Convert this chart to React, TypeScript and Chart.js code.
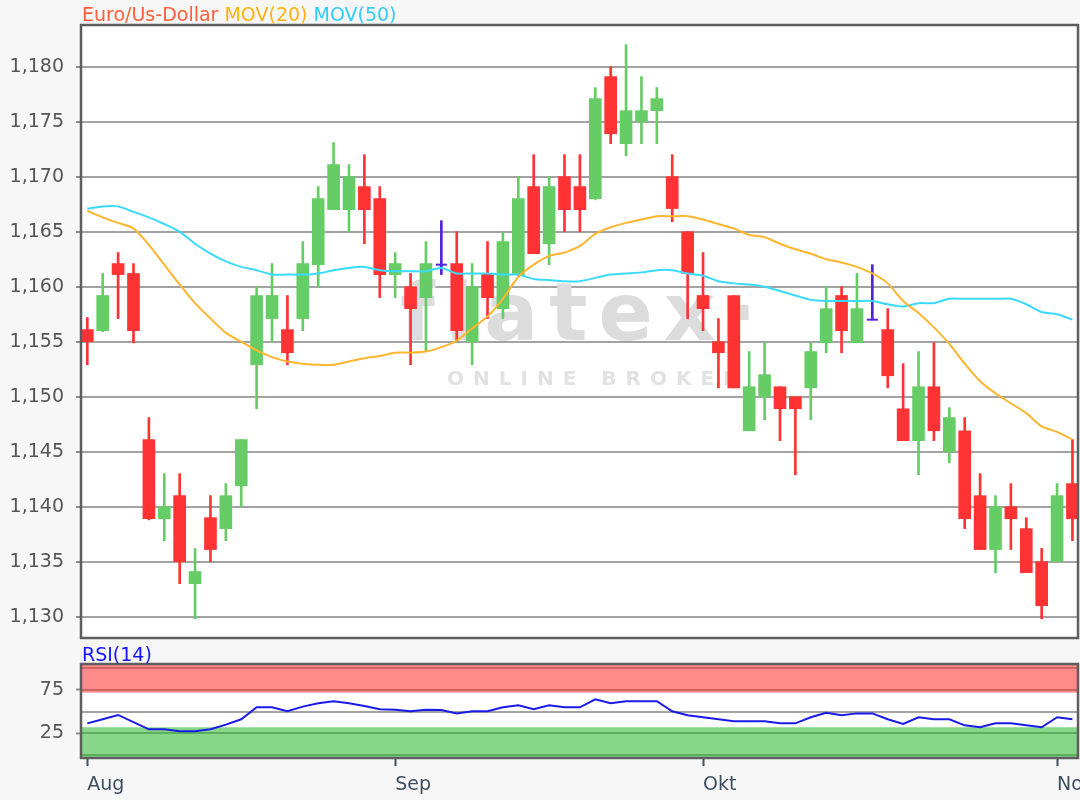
import React, { useEffect, useRef } from 'react';
import { Chart, registerables } from 'chart.js';

Chart.register(...registerables);

// ---------- data ----------
const OPEN = [
  1.1561, 1.1560, 1.1621, 1.1612, 1.1461, 1.1389, 1.1410, 1.1330, 1.1390, 1.1380,
  1.1419, 1.1529, 1.1571, 1.1561, 1.1571, 1.1620, 1.1670, 1.1670, 1.1691, 1.1680,
  1.1611, 1.1600, 1.1590, 1.1620, 1.1621, 1.1550, 1.1612, 1.1580, 1.1611, 1.1691,
  1.1639, 1.1700, 1.1691, 1.1680, 1.1791, 1.1730, 1.1750, 1.1760, 1.1700, 1.1650,
  1.1592, 1.1550, 1.1592, 1.1469, 1.1500, 1.1509, 1.1500, 1.1508, 1.1549, 1.1592,
  1.1549, 1.1570, 1.1561, 1.1489, 1.1460, 1.1509, 1.1450, 1.1469, 1.1410, 1.1361,
  1.1400, 1.1380, 1.1350, 1.1350, 1.1421,
];
const HIGH = [
  1.1572, 1.1612, 1.1631, 1.1621, 1.1481, 1.1430, 1.1430, 1.1362, 1.1410, 1.1421,
  1.1461, 1.1600, 1.1621, 1.1592, 1.1641, 1.1691, 1.1731, 1.1711, 1.1720, 1.1691,
  1.1631, 1.1612, 1.1641, 1.1660, 1.1650, 1.1621, 1.1641, 1.1650, 1.1700, 1.1720,
  1.1700, 1.1720, 1.1720, 1.1781, 1.1800, 1.1820, 1.1791, 1.1781, 1.1720, 1.1650,
  1.1631, 1.1571, 1.1592, 1.1541, 1.1549, 1.1509, 1.1500, 1.1549, 1.1600, 1.1600,
  1.1612, 1.1620, 1.1580, 1.1530, 1.1541, 1.1549, 1.1490, 1.1481, 1.1430, 1.1410,
  1.1421, 1.1390, 1.1362, 1.1421, 1.1461,
];
const LOW = [
  1.1529, 1.1559, 1.1571, 1.1549, 1.1388, 1.1369, 1.1330, 1.1298, 1.1350, 1.1369,
  1.1400, 1.1489, 1.1550, 1.1529, 1.1560, 1.1600, 1.1670, 1.1650, 1.1639, 1.1590,
  1.1590, 1.1529, 1.1541, 1.1611, 1.1550, 1.1529, 1.1571, 1.1571, 1.1610, 1.1630,
  1.1620, 1.1650, 1.1650, 1.1679, 1.1730, 1.1719, 1.1730, 1.1730, 1.1659, 1.1571,
  1.1560, 1.1508, 1.1508, 1.1469, 1.1479, 1.1460, 1.1429, 1.1479, 1.1540, 1.1540,
  1.1549, 1.1570, 1.1508, 1.1460, 1.1429, 1.1460, 1.1440, 1.1380, 1.1361, 1.1340,
  1.1361, 1.1340, 1.1298, 1.1350, 1.1369,
];
const CLOSE = [
  1.1550, 1.1592, 1.1611, 1.1560, 1.1389, 1.1400, 1.1350, 1.1341, 1.1361, 1.1410,
  1.1461, 1.1592, 1.1592, 1.1540, 1.1621, 1.1680, 1.1711, 1.1700, 1.1670, 1.1611,
  1.1621, 1.1580, 1.1621, 1.1620, 1.1560, 1.1600, 1.1590, 1.1641, 1.1680, 1.1630,
  1.1691, 1.1670, 1.1670, 1.1771, 1.1739, 1.1760, 1.1760, 1.1771, 1.1671, 1.1612,
  1.1580, 1.1540, 1.1508, 1.1509, 1.1520, 1.1489, 1.1489, 1.1541, 1.1580, 1.1560,
  1.1580, 1.1570, 1.1519, 1.1460, 1.1509, 1.1469, 1.1481, 1.1389, 1.1361, 1.1400,
  1.1389, 1.1340, 1.1310, 1.1410, 1.1389,
];
const MOV20 = [
  1.1669, 1.1663, 1.1658, 1.1653, 1.1638, 1.1620, 1.1602, 1.1585, 1.1571, 1.1558,
  1.1550, 1.1542, 1.1536, 1.1532, 1.1530, 1.1529, 1.1529, 1.1532, 1.1535, 1.1537,
  1.1540, 1.1540, 1.1541, 1.1545, 1.1551, 1.1562, 1.1573, 1.1589, 1.1609, 1.1620,
  1.1628, 1.1631, 1.1637, 1.1648, 1.1654, 1.1658, 1.1661, 1.1664, 1.1664, 1.1664,
  1.1661, 1.1657, 1.1653, 1.1647, 1.1645, 1.1639, 1.1634, 1.1630, 1.1625, 1.1622,
  1.1618, 1.1612, 1.1603, 1.1587, 1.1576, 1.1563, 1.1548, 1.1530, 1.1514, 1.1503,
  1.1494, 1.1485, 1.1473, 1.1468, 1.1461,
];
const MOV50 = [
  1.1671, 1.1673, 1.1673, 1.1668, 1.1663, 1.1657, 1.1650, 1.1639, 1.1630, 1.1623,
  1.1618, 1.1615, 1.1611, 1.1611, 1.1611, 1.1612, 1.1615, 1.1617, 1.1618, 1.1615,
  1.1614, 1.1614, 1.1614, 1.1617, 1.1612, 1.1612, 1.1612, 1.1611, 1.1611, 1.1607,
  1.1606, 1.1605, 1.1605, 1.1608, 1.1611, 1.1612, 1.1613, 1.1615, 1.1615, 1.1612,
  1.1610, 1.1605, 1.1603, 1.1602, 1.1600, 1.1596, 1.1592, 1.1588, 1.1587, 1.1587,
  1.1587, 1.1587, 1.1584, 1.1582, 1.1585, 1.1585, 1.1589, 1.1589, 1.1589, 1.1589,
  1.1589, 1.1584, 1.1577, 1.1575, 1.1570,
];
const RSI14 = [
  36.5, 41.3, 46.2, 37.9, 29.6, 29.6, 27.3, 27.3, 29.6, 35.0,
  41.2, 55.0, 55.0, 50.4, 55.8, 59.6, 62.0, 59.6, 56.5, 52.7,
  52.3, 50.4, 52.3, 52.0, 48.0, 50.4, 50.4, 55.0, 57.3, 52.7,
  57.3, 55.0, 55.0, 64.2, 59.6, 62.0, 62.0, 62.0, 50.4, 45.8,
  43.5, 41.2, 38.8, 38.8, 38.8, 36.5, 36.5, 43.5, 48.8, 45.8,
  48.0, 48.0, 41.2, 35.8, 43.5, 41.2, 41.2, 34.2, 32.0, 36.5,
  36.5, 34.2, 32.0, 43.5, 41.2,
];
const MONTH_TICKS = [0, 20, 40, 63];
const MONTH_LABELS = ['Aug', 'Sep', 'Okt', 'Nov'];
const PRICE_TICKS = [1.13, 1.135, 1.14, 1.145, 1.15, 1.155, 1.16, 1.165, 1.17, 1.175, 1.18];
const RSI_TICKS = [25, 75];
const RSI_RED_LINES = [75, 100];
const RSI_GREEN_LINES = [0, 25];
const RSI_MID_LINE = 50;
const RSI_RED_ZONE = [72, 110];
const RSI_GREEN_ZONE = [-10, 32];

// ---------- axis ranges ----------
const X_MIN = -0.41;
const X_MAX = 64.36;
const PRICE_MIN = 1.12806;
const PRICE_MAX = 1.18379;
const RSI_MIN = -3.5;
const RSI_MAX = 105;

// ---------- styles ----------
const FONT = 'DejaVu Sans';
const PAGE_BG = '#F7F7F7';
const UP = '#66CC66';
const DOWN = '#FF3333';
const DOJI = '#5522DD';
const ORANGE = '#FFB52E';
const CYAN = '#3ADAFF';
const FRAME = '#5E5E5E';
const GRID = '#A3A3A3';

const idx = OPEN.map((_, i) => i);
const colorOf = (i: number) => (CLOSE[i] > OPEN[i] ? UP : CLOSE[i] < OPEN[i] ? DOWN : DOJI);
const bodyIdx = idx.filter((i) => OPEN[i] !== CLOSE[i]);
const dojiIdx = idx.filter((i) => OPEN[i] === CLOSE[i]);

const fmtPrice = (v: number) => Number(v).toFixed(3).replace('.', ',');

const frame = (chart: any) => {
  const { ctx, chartArea: a } = chart;
  ctx.save();
  ctx.strokeStyle = FRAME;
  ctx.lineWidth = 2.5;
  ctx.strokeRect(a.left, a.top, a.right - a.left, a.bottom - a.top);
  ctx.restore();
};
const background = (chart: any) => {
  const { ctx, chartArea: a, width, height } = chart;
  ctx.save();
  ctx.fillStyle = PAGE_BG;
  ctx.fillRect(0, 0, width, height);
  ctx.fillStyle = '#FFFFFF';
  ctx.fillRect(a.left, a.top, a.right - a.left, a.bottom - a.top);
  ctx.restore();
};

const mainDecor = {
  id: 'mainDecor',
  beforeDraw: background,
  beforeDatasetsDraw(chart: any) {
    const { ctx, chartArea: a } = chart;
    ctx.save();
    ctx.beginPath();
    ctx.rect(a.left, a.top, a.right - a.left, a.bottom - a.top);
    ctx.clip();
    ctx.textBaseline = 'alphabetic';
    ctx.textAlign = 'left';
    ctx.fillStyle = '#DCDCDC';
    ctx.font = `bold 80px "${FONT}"`;
    (ctx as any).letterSpacing = '11px';
    ctx.fillText('flatex·', 400, 340);
    ctx.fillStyle = '#E2E2E2';
    ctx.font = `bold 20px "${FONT}"`;
    (ctx as any).letterSpacing = '9px';
    ctx.fillText('ONLINE BROKER', 447, 385);
    ctx.restore();
  },
  afterDraw: frame,
};

const rsiDecor = {
  id: 'rsiDecor',
  beforeDraw: background,
  beforeDatasetsDraw(chart: any) {
    const { ctx, chartArea: a, scales } = chart;
    const py = (v: number) => scales.y.getPixelForValue(v);
    const w = a.right - a.left;
    ctx.save();
    ctx.beginPath();
    ctx.rect(a.left, a.top, w, a.bottom - a.top);
    ctx.clip();
    ctx.fillStyle = '#FF8A8A';
    ctx.fillRect(a.left, py(RSI_RED_ZONE[1]), w, py(RSI_RED_ZONE[0]) - py(RSI_RED_ZONE[1]));
    ctx.fillStyle = '#88D688';
    ctx.fillRect(a.left, py(RSI_GREEN_ZONE[1]), w, py(RSI_GREEN_ZONE[0]) - py(RSI_GREEN_ZONE[1]));
    const hline = (v: number, c: string) => {
      ctx.strokeStyle = c;
      ctx.lineWidth = 2;
      ctx.beginPath();
      ctx.moveTo(a.left, Math.round(py(v)));
      ctx.lineTo(a.right, Math.round(py(v)));
      ctx.stroke();
    };
    RSI_RED_LINES.forEach((v) => hline(v, '#D46464'));
    RSI_GREEN_LINES.forEach((v) => hline(v, '#5CAE5C'));
    hline(RSI_MID_LINE, GRID);
    ctx.restore();
  },
  afterDraw: frame,
};

const yAxisFit = (s: any) => {
  s.width = 81;
  s.paddingTop = 0;
  s.paddingBottom = 0;
  s.paddingLeft = 0;
  s.paddingRight = 0;
};
const hiddenXFit = (s: any) => {
  s.height = 0;
  s.paddingTop = 0;
  s.paddingBottom = 0;
  s.paddingLeft = 0;
  s.paddingRight = 0;
};

export default function App() {
  const mainRef = useRef<HTMLCanvasElement>(null);
  const rsiRef = useRef<HTMLCanvasElement>(null);

  useEffect(() => {
    const main = new Chart(mainRef.current as HTMLCanvasElement, {
      type: 'bar',
      data: {
        datasets: [
          {
            type: 'line',
            data: idx.map((i) => ({ x: i, y: MOV20[i] })),
            borderColor: ORANGE,
            borderWidth: 2,
            pointRadius: 0,
            tension: 0.25,
            order: 0,
          } as any,
          {
            type: 'line',
            data: idx.map((i) => ({ x: i, y: MOV50[i] })),
            borderColor: CYAN,
            borderWidth: 2,
            pointRadius: 0,
            tension: 0.25,
            order: 1,
          } as any,
          {
            type: 'line',
            data: dojiIdx.map((i) => ({ x: i, y: OPEN[i] })),
            showLine: false,
            pointStyle: 'line',
            pointRadius: 5.5,
            pointBorderWidth: 2,
            borderColor: DOJI,
            backgroundColor: DOJI,
            order: 2,
          } as any,
          {
            type: 'bar',
            data: bodyIdx.map((i) => ({ x: i, y: [Math.min(OPEN[i], CLOSE[i]), Math.max(OPEN[i], CLOSE[i])] })),
            backgroundColor: bodyIdx.map(colorOf),
            barThickness: 12,
            grouped: false,
            borderWidth: 0,
            order: 3,
          } as any,
          {
            type: 'bar',
            data: idx.map((i) => ({ x: i, y: [LOW[i], HIGH[i]] })),
            backgroundColor: idx.map(colorOf),
            barThickness: 2,
            grouped: false,
            borderWidth: 0,
            order: 4,
          } as any,
        ],
      },
      options: {
        animation: false,
        responsive: false,
        maintainAspectRatio: false,
        layout: { autoPadding: false, padding: { top: 25, right: 2, bottom: 10, left: 0 } },
        plugins: { legend: { display: false }, tooltip: { enabled: false }, title: { display: false } },
        scales: {
          x: {
            type: 'linear',
            min: X_MIN,
            max: X_MAX,
            offset: false,
            display: false,
            grid: { offset: false },
            afterFit: hiddenXFit,
          },
          y: {
            type: 'linear',
            min: PRICE_MIN,
            max: PRICE_MAX,
            afterBuildTicks: (s: any) => {
              s.ticks = PRICE_TICKS.map((v) => ({ value: v }));
            },
            afterFit: yAxisFit,
            ticks: {
              callback: (v: any) => fmtPrice(v),
              font: { family: FONT, size: 19 },
              color: '#555555',
              padding: 12,
            },
            grid: { color: GRID, lineWidth: 2, tickLength: 5, tickColor: '#8A8A8A', tickWidth: 2 },
            border: { display: false },
          },
        },
      } as any,
      plugins: [mainDecor],
    });

    const rsi = new Chart(rsiRef.current as HTMLCanvasElement, {
      type: 'line',
      data: {
        datasets: [
          {
            data: idx.map((i) => ({ x: i, y: RSI14[i] })),
            borderColor: '#1A1AE8',
            borderWidth: 2,
            pointRadius: 0,
            tension: 0,
          },
        ],
      },
      options: {
        animation: false,
        responsive: false,
        maintainAspectRatio: false,
        layout: { autoPadding: false, padding: { top: 16, right: 2, bottom: 0, left: 0 } },
        plugins: { legend: { display: false }, tooltip: { enabled: false }, title: { display: false } },
        scales: {
          x: {
            type: 'linear',
            min: X_MIN,
            max: X_MAX,
            offset: false,
            afterBuildTicks: (s: any) => {
              s.ticks = MONTH_TICKS.map((v) => ({ value: v }));
            },
            afterFit: (s: any) => {
              s.height = 42;
              s.paddingLeft = 0;
              s.paddingRight = 0;
            },
            ticks: {
              autoSkip: false,
              maxRotation: 0,
              minRotation: 0,
              align: 'start',
              padding: 8,
              font: { family: FONT, size: 19 },
              color: '#3E4E5E',
              callback: (v: any) => MONTH_LABELS[MONTH_TICKS.indexOf(Number(v))],
            },
            grid: { drawOnChartArea: false, drawTicks: true, tickLength: 8, tickColor: '#3E4E5E', tickWidth: 2 },
            border: { display: false },
          },
          y: {
            type: 'linear',
            min: RSI_MIN,
            max: RSI_MAX,
            afterBuildTicks: (s: any) => {
              s.ticks = RSI_TICKS.map((v) => ({ value: v }));
            },
            afterFit: yAxisFit,
            ticks: {
              font: { family: FONT, size: 19 },
              color: '#555555',
              padding: 12,
            },
            grid: { drawOnChartArea: false, drawTicks: true, tickLength: 5, tickColor: '#8A8A8A', tickWidth: 2 },
            border: { display: false },
          },
        },
      } as any,
      plugins: [rsiDecor],
    });

    return () => {
      main.destroy();
      rsi.destroy();
    };
  }, []);

  return (
    <div
      style={{
        position: 'absolute',
        left: 0,
        top: 0,
        width: 1080,
        height: 800,
        background: PAGE_BG,
        overflow: 'hidden',
      }}
    >
      <canvas ref={mainRef} width={1080} height={648} style={{ position: 'absolute', left: 0, top: 0 }} />
      <canvas ref={rsiRef} width={1080} height={152} style={{ position: 'absolute', left: 0, top: 648 }} />
      <div
        style={{
          position: 'absolute',
          left: 82,
          top: 5,
          font: `19px "${FONT}"`,
          lineHeight: '19px',
          whiteSpace: 'nowrap',
        }}
      >
        <span style={{ color: '#FF5E3A' }}>Euro/Us-Dollar</span>{' '}
        <span style={{ color: '#FFB20F' }}>MOV(20)</span>{' '}
        <span style={{ color: '#33CCFF' }}>MOV(50)</span>
      </div>
      <div
        style={{
          position: 'absolute',
          left: 82,
          top: 645,
          font: `19px "${FONT}"`,
          lineHeight: '19px',
          whiteSpace: 'nowrap',
          color: '#1414FF',
        }}
      >
        RSI(14)
      </div>
    </div>
  );
}
